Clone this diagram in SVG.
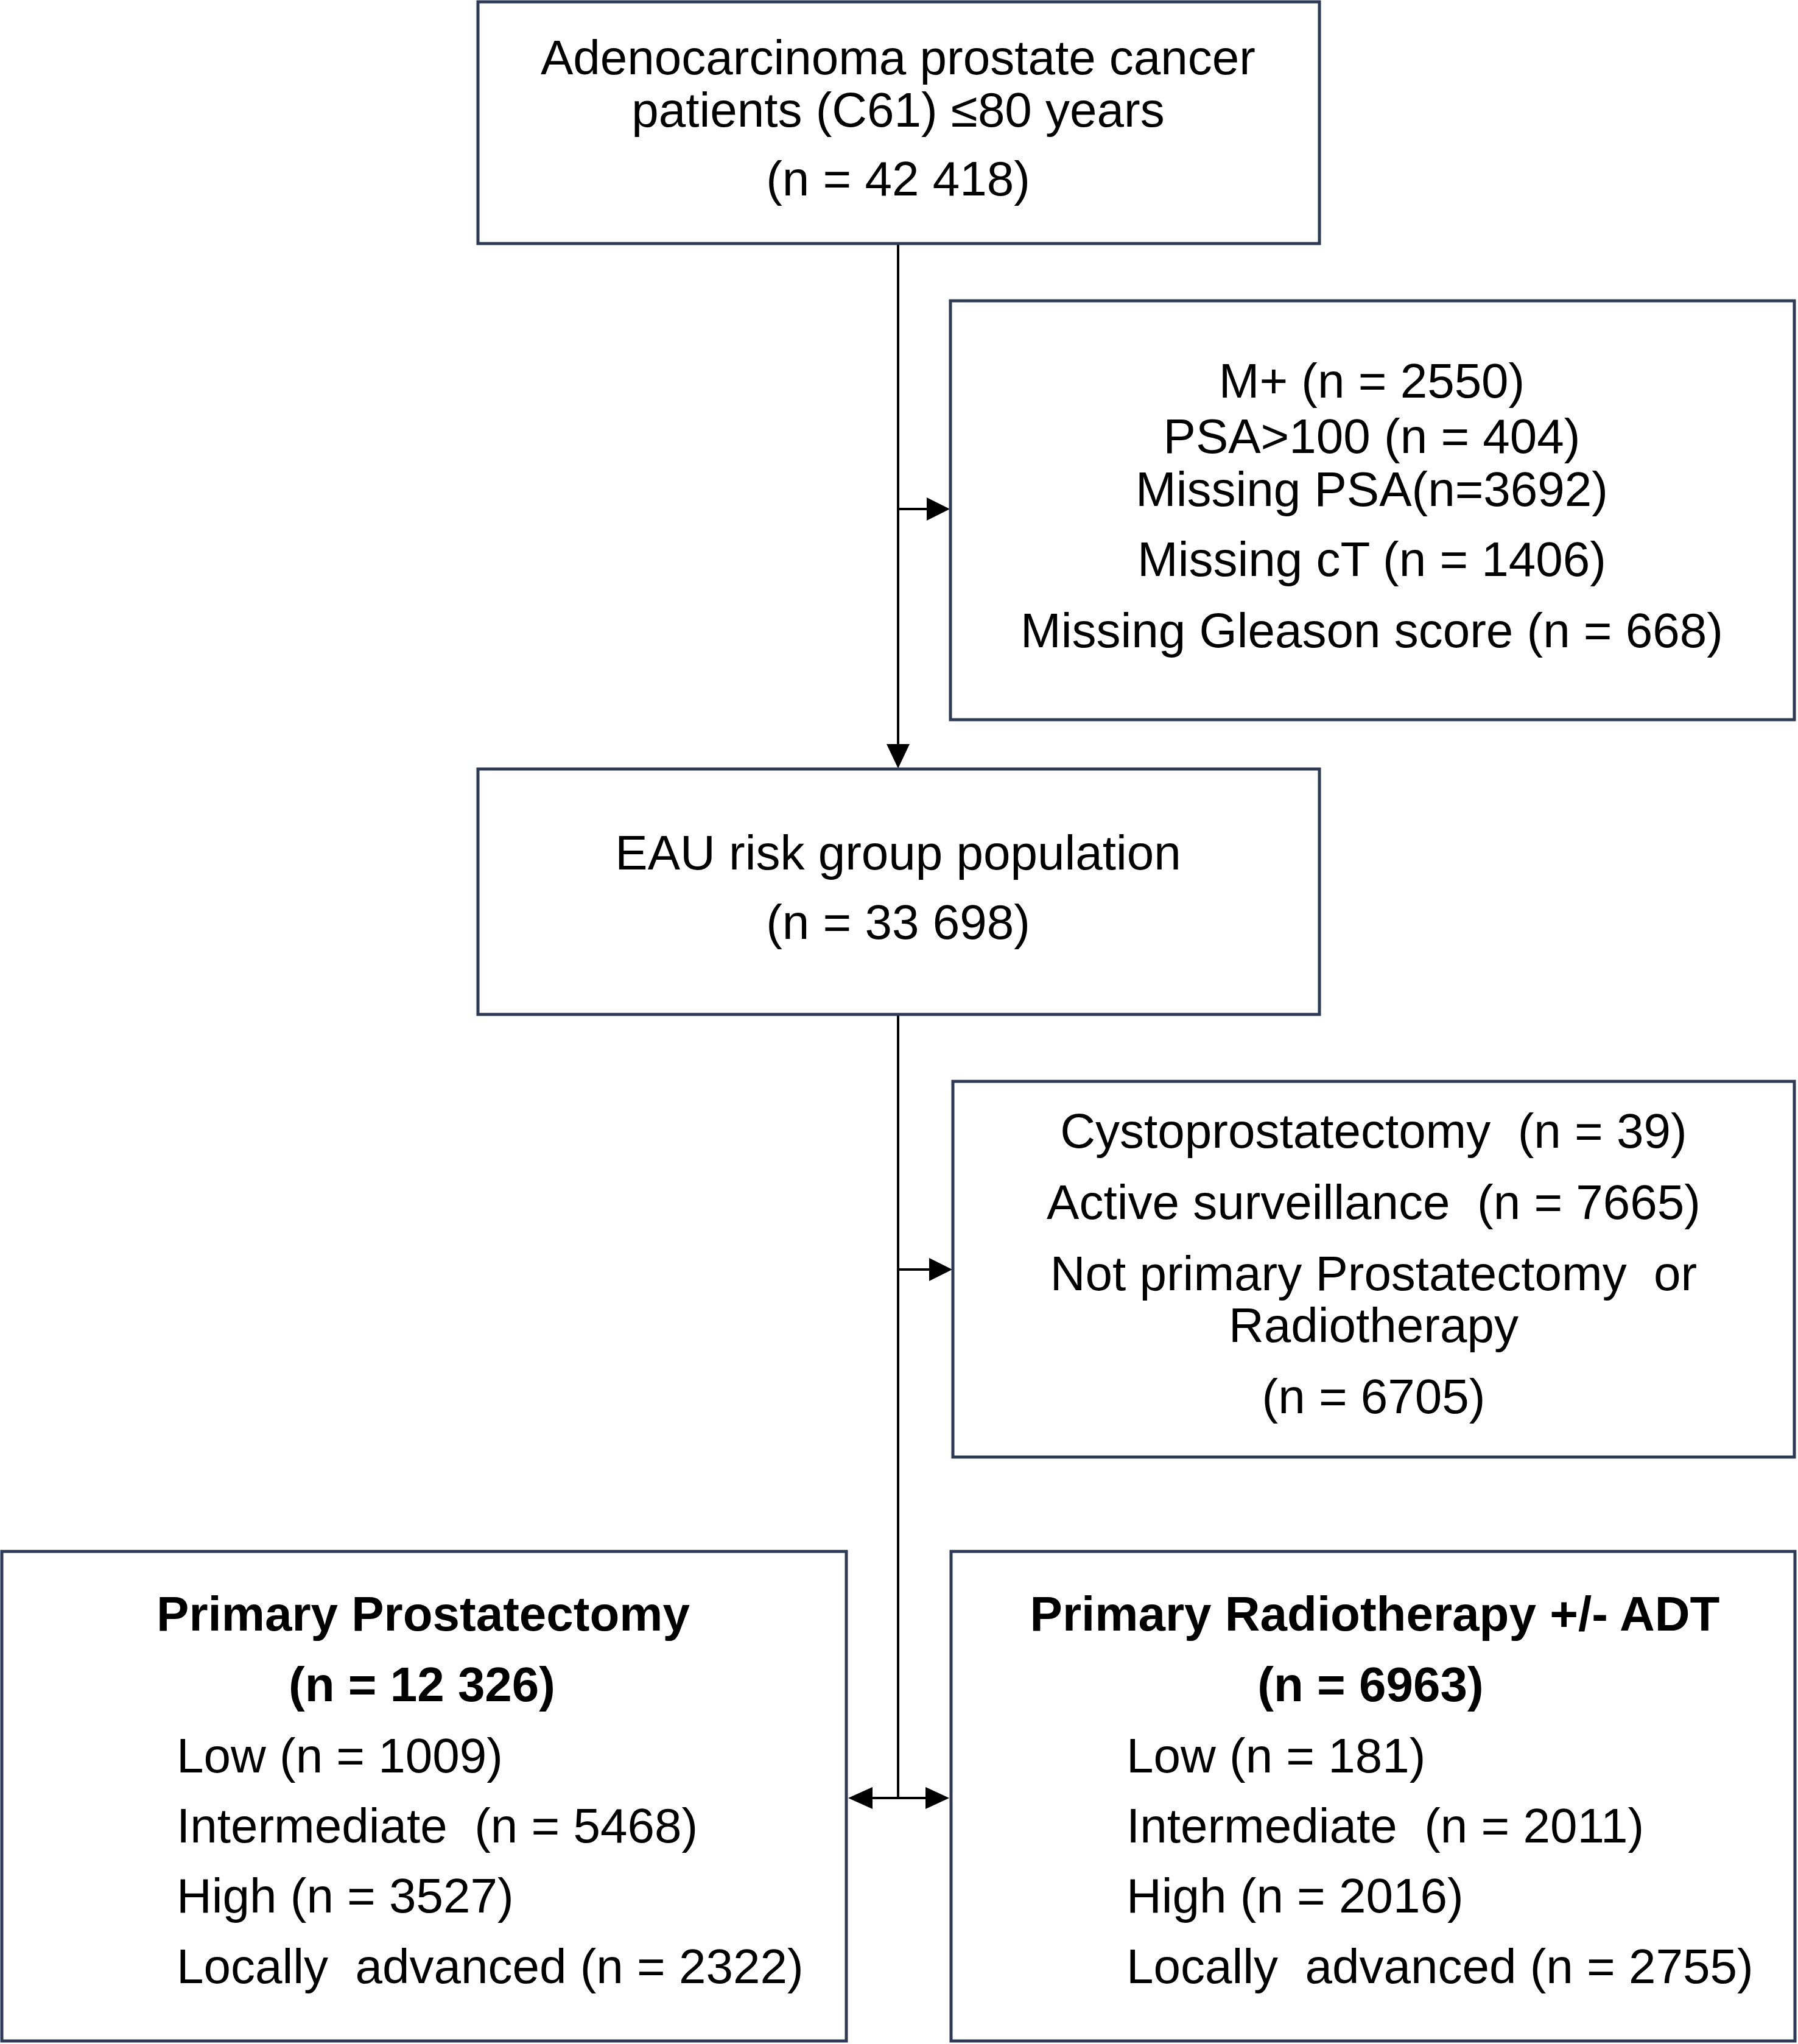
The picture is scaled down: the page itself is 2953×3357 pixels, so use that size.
<svg xmlns="http://www.w3.org/2000/svg" width="2953" height="3357" viewBox="0 0 2953 3357">
<style>
.box{fill:#ffffff;stroke:#2e3b57;stroke-width:5}
.t{font-family:"Liberation Sans",Arial,sans-serif;font-size:80px;fill:#000000;white-space:pre}
.c{text-anchor:middle}
.b{font-weight:bold}
.ln{stroke:#000000;stroke-width:4;fill:none}
.ah{fill:#000000}
</style>
<rect width="2953" height="3357" fill="#ffffff"/>
<g id="connectors">
<line class="ln" x1="1475" y1="400" x2="1475" y2="1224"/>
<polygon class="ah" points="1456,1222 1494,1222 1475,1262"/>
<line class="ln" x1="1475" y1="836" x2="1524" y2="836"/>
<polygon class="ah" points="1522,817 1522,855 1560,836"/>
<line class="ln" x1="1475" y1="1666" x2="1475" y2="2953"/>
<line class="ln" x1="1475" y1="2085" x2="1528" y2="2085"/>
<polygon class="ah" points="1526,2066 1526,2104 1564,2085"/>
<line class="ln" x1="1430" y1="2953" x2="1522" y2="2953"/>
<polygon class="ah" points="1433,2935 1433,2971 1393,2953"/>
<polygon class="ah" points="1520,2935 1520,2971 1559,2953"/>
</g>
<g id="node-start">
<rect class="box" x="785" y="3" width="1382" height="397"/>
<text class="t c" x="1475" y="122">Adenocarcinoma prostate cancer</text>
<text class="t c" x="1475" y="208">patients (C61) ≤80 years</text>
<text class="t c" x="1475" y="321">(n = 42 418)</text>
</g>
<g id="node-excl1">
<rect class="box" x="1561" y="494" width="1386" height="688"/>
<text class="t c" x="2253" y="653">M+ (n = 2550)</text>
<text class="t c" x="2253" y="744">PSA&gt;100 (n = 404)</text>
<text class="t c" x="2253" y="831">Missing PSA(n=3692)</text>
<text class="t c" x="2253" y="946">Missing cT (n = 1406)</text>
<text class="t c" x="2253" y="1063">Missing Gleason score (n = 668)</text>
</g>
<g id="node-eau">
<rect class="box" x="785" y="1263" width="1382" height="403"/>
<text class="t c" x="1475" y="1428">EAU risk group population</text>
<text class="t c" x="1475" y="1542">(n = 33 698)</text>
</g>
<g id="node-excl2">
<rect class="box" x="1565" y="1776" width="1382" height="617"/>
<text class="t c" x="2256" y="1885">Cystoprostatectomy  (n = 39)</text>
<text class="t c" x="2256" y="2002">Active surveillance  (n = 7665)</text>
<text class="t c" x="2256" y="2119">Not primary Prostatectomy  or</text>
<text class="t c" x="2256" y="2204">Radiotherapy</text>
<text class="t c" x="2256" y="2321">(n = 6705)</text>
</g>
<g id="node-prostatectomy">
<rect class="box" x="3" y="2548" width="1387" height="804"/>
<text class="t c b" x="695" y="2678">Primary Prostatectomy</text>
<text class="t c b" x="693" y="2794">(n = 12 326)</text>
<text class="t" x="290" y="2911">Low (n = 1009)</text>
<text class="t" x="290" y="3026">Intermediate  (n = 5468)</text>
<text class="t" x="290" y="3141">High (n = 3527)</text>
<text class="t" x="290" y="3257">Locally  advanced (n = 2322)</text>
</g>
<g id="node-radiotherapy">
<rect class="box" x="1562" y="2548" width="1386" height="804"/>
<text class="t c b" x="2258" y="2678">Primary Radiotherapy +/- ADT</text>
<text class="t c b" x="2251" y="2794">(n = 6963)</text>
<text class="t" x="1850" y="2911">Low (n = 181)</text>
<text class="t" x="1850" y="3026">Intermediate  (n = 2011)</text>
<text class="t" x="1850" y="3141">High (n = 2016)</text>
<text class="t" x="1850" y="3257">Locally  advanced (n = 2755)</text>
</g>
</svg>
